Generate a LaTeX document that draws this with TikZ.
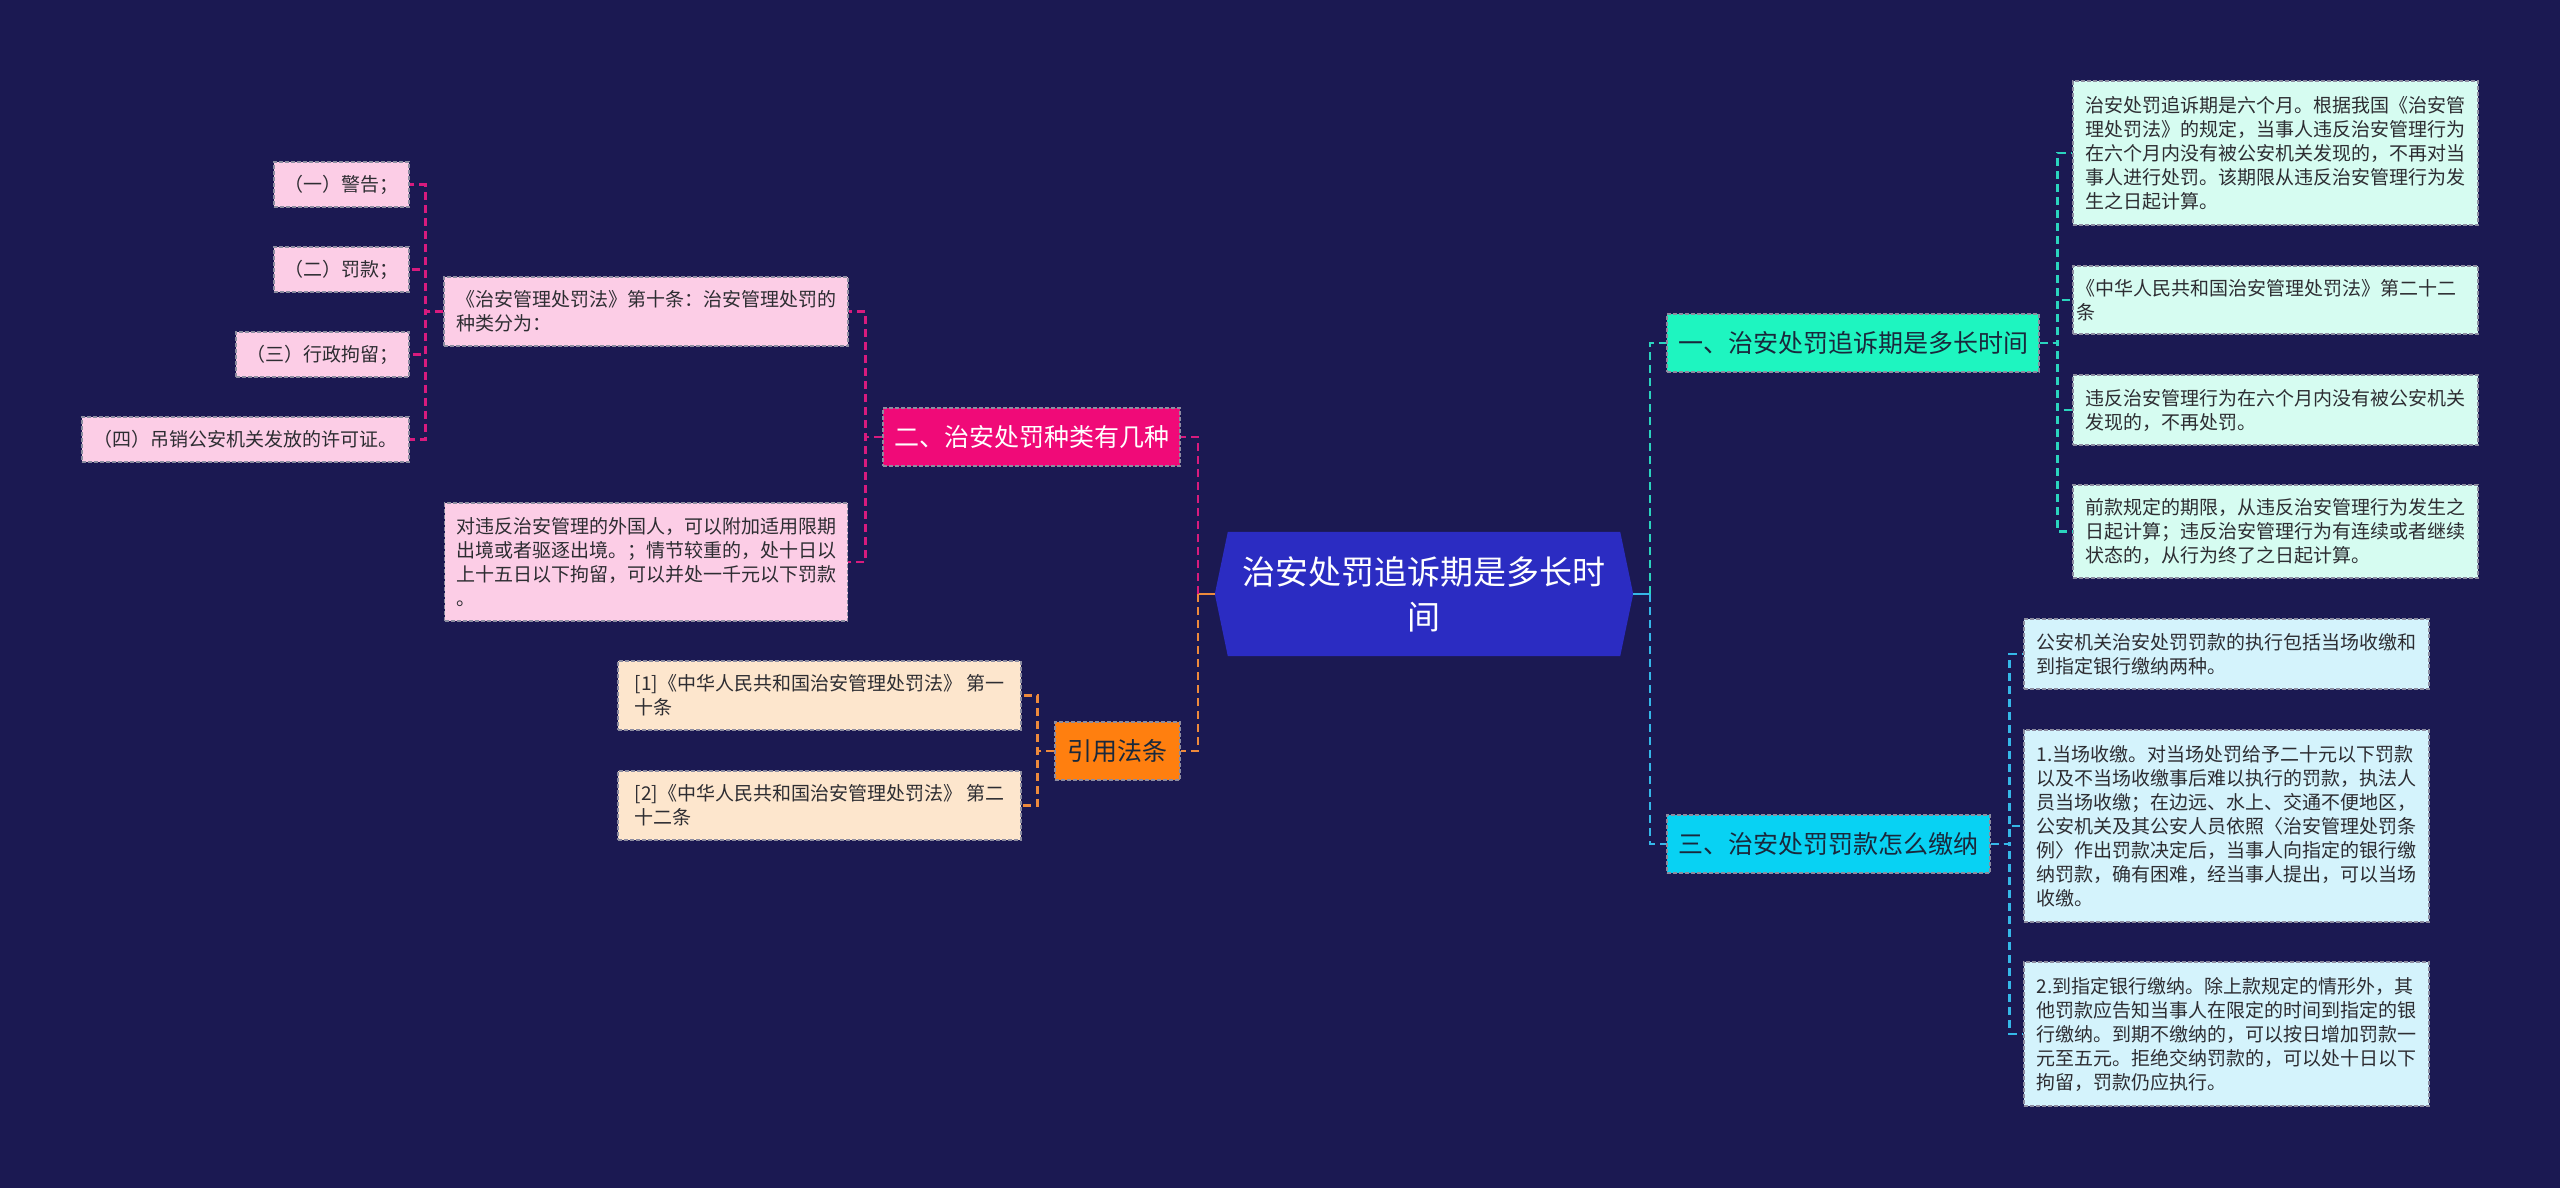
\documentclass[tikz,border=0pt]{standalone}
\usepackage{fontspec}
\newfontfamily\cjk{Noto Sans CJK SC}
\definecolor{bg}{RGB}{27,25,82}
\definecolor{rootfill}{RGB}{43,44,194}
\definecolor{onefill}{RGB}{30,245,192}
\definecolor{threefill}{RGB}{8,210,243}
\definecolor{twofill}{RGB}{240,10,120}
\definecolor{reffill}{RGB}{255,127,15}
\definecolor{mintleaf}{RGB}{214,252,241}
\definecolor{blueleaf}{RGB}{212,243,252}
\definecolor{pinkleaf}{RGB}{252,205,230}
\definecolor{peachleaf}{RGB}{253,230,205}
\definecolor{boxborder}{RGB}{140,140,160}
\definecolor{leaftext}{RGB}{45,45,50}
\definecolor{darktext}{RGB}{25,40,60}
\definecolor{connone}{RGB}{43,212,190}
\definecolor{connthree}{RGB}{53,184,232}
\definecolor{conntwo}{RGB}{216,27,126}
\definecolor{connref}{RGB}{238,138,60}
\tikzset{
  boxbase/.style={draw=boxborder, line width=1.2pt, dash pattern=on 4pt off 2pt, inner sep=0pt, align=left},
  leaf/.style={boxbase, text=leaftext, font=\cjk\fontsize{19}{24}\selectfont},
  branch/.style={boxbase, font=\cjk\fontsize{25}{30}\selectfont, minimum height=58pt},
  conn/.style={line width=2.5pt, dash pattern=on 8pt off 5pt},
  stub/.style={line width=2.5pt}
}
\begin{document}
\begin{tikzpicture}[x=1pt,y=-1pt]
\fill[bg] (0,0) rectangle (2560,1188);
\useasboundingbox (0,0) rectangle (2560,1188);

% root
\node[minimum width=418pt, minimum height=124pt, inner sep=0pt] (root) at (1424,594) {};
\fill[rootfill] (root.west) -- ([xshift=13pt]root.north west) -- ([xshift=-13pt]root.north east) -- (root.east) -- ([xshift=-13pt]root.south east) -- ([xshift=13pt]root.south west) -- cycle;
\node[text=white, align=center, font=\cjk\fontsize{33}{45}\selectfont] (roottext) at (root.center) {治安处罚追诉期是多长时\\间};

% main branches
\node[branch, fill=onefill, text=darktext, minimum width=372pt] (n1) at (1853,343) {一、治安处罚追诉期是多长时间};
\node[branch, fill=threefill, text=darktext, minimum width=323pt] (n3) at (1828.5,844) {三、治安处罚罚款怎么缴纳};
\node[branch, fill=twofill, text=white, minimum width=297pt] (n2) at (1031.5,437) {二、治安处罚种类有几种};
\node[branch, fill=reffill, text=darktext, minimum width=125pt] (ref) at (1117.5,751) {引用法条};

% right leaves of 一
\node[leaf, fill=mintleaf, minimum width=405pt, minimum height=144pt] (r1) at (2275.5,153) {治安处罚追诉期是六个月。根据我国《治安管\\理处罚法》的规定，当事人违反治安管理行为\\在六个月内没有被公安机关发现的，不再对当\\事人进行处罚。该期限从违反治安管理行为发\\生之日起计算。};
\node[leaf, fill=mintleaf, minimum width=405pt, minimum height=68pt] (r2) at (2275.5,300) {《中华人民共和国治安管理处罚法》第二十二\\条\phantom{《中华人民共和国治安管理处罚法》第二十二}};
\node[leaf, fill=mintleaf, minimum width=405pt, minimum height=70pt] (r3) at (2275.5,410) {违反治安管理行为在六个月内没有被公安机关\\发现的，不再处罚。};
\node[leaf, fill=mintleaf, minimum width=405pt, minimum height=93pt] (r4) at (2275.5,531.5) {前款规定的期限，从违反治安管理行为发生之\\日起计算；违反治安管理行为有连续或者继续\\状态的，从行为终了之日起计算。};

% right leaves of 三
\node[leaf, fill=blueleaf, minimum width=405pt, minimum height=70pt] (t1) at (2226.5,654) {公安机关治安处罚罚款的执行包括当场收缴和\\到指定银行缴纳两种。};
\node[leaf, fill=blueleaf, minimum width=405pt, minimum height=192pt] (t2) at (2226.5,826) {1.当场收缴。对当场处罚给予二十元以下罚款\\以及不当场收缴事后难以执行的罚款，执法人\\员当场收缴；在边远、水上、交通不便地区，\\公安机关及其公安人员依照〈治安管理处罚条\\例〉作出罚款决定后，当事人向指定的银行缴\\纳罚款，确有困难，经当事人提出，可以当场\\收缴。};
\node[leaf, fill=blueleaf, minimum width=405pt, minimum height=144pt] (t3) at (2226.5,1034) {2.到指定银行缴纳。除上款规定的情形外，其\\他罚款应告知当事人在限定的时间到指定的银\\行缴纳。到期不缴纳的，可以按日增加罚款一\\元至五元。拒绝交纳罚款的，可以处十日以下\\拘留，罚款仍应执行。};

% left leaves of 二
\node[leaf, fill=pinkleaf, minimum width=404pt, minimum height=69pt] (p0) at (646,311.5) {《治安管理处罚法》第十条：治安管理处罚的\\种类分为：};
\node[leaf, fill=pinkleaf, minimum width=403pt, minimum height=118pt] (p5) at (646,562) {对违反治安管理的外国人，可以附加适用限期\\出境或者驱逐出境。；情节较重的，处十日以\\上十五日以下拘留，可以并处一千元以下罚款\\。};
\node[leaf, fill=pinkleaf, minimum width=135pt, minimum height=45pt] (p1) at (341.5,184.5) {（一）警告；};
\node[leaf, fill=pinkleaf, minimum width=135pt, minimum height=45pt] (p2) at (341.5,269.5) {（二）罚款；};
\node[leaf, fill=pinkleaf, minimum width=173pt, minimum height=45pt] (p3) at (322.5,354.5) {（三）行政拘留；};
\node[leaf, fill=pinkleaf, minimum width=327pt, minimum height=45pt] (p4) at (245.5,439.5) {（四）吊销公安机关发放的许可证。};

% 引用法条 leaves
\node[leaf, fill=peachleaf, minimum width=403pt, minimum height=69pt] (c1) at (819.5,695.5) {[1]《中华人民共和国治安管理处罚法》~第一\\十条};
\node[leaf, fill=peachleaf, minimum width=403pt, minimum height=69pt] (c2) at (819.5,805.5) {[2]《中华人民共和国治安管理处罚法》~第二\\十二条};

% connectors: root
\draw[stub, connref] (root.west) -- ++(-17,0) coordinate (lj);
\draw[conn, conntwo] (lj) |- (n2.east);
\draw[conn, connref] (lj) |- (ref.east);
\draw[stub, connthree] (root.east) -- ++(17,0) coordinate (rj);
\draw[conn, connone] (rj) |- (n1.west);
\draw[conn, connthree] (rj) |- (n3.west);

% 一 branch
\foreach \t in {r1,r2,r3,r4}
  \draw[conn, connone] (n1.east) -- ++(18,0) |- (\t.west);
% 三 branch
\foreach \t in {t1,t2,t3}
  \draw[conn, connthree] (n3.east) -- ++(19,0) |- (\t.west);
% 二 branch
\foreach \t in {p0,p5}
  \draw[conn, conntwo] (n2.west) -- ++(-17,0) |- (\t.east);
\foreach \t in {p1,p2,p3,p4}
  \draw[conn, conntwo] (p0.west) -- ++(-18,0) |- (\t.east);
% 引用 branch
\foreach \t in {c1,c2}
  \draw[conn, connref] (ref.west) -- ++(-17,0) |- (\t.east);
\end{tikzpicture}
\end{document}
